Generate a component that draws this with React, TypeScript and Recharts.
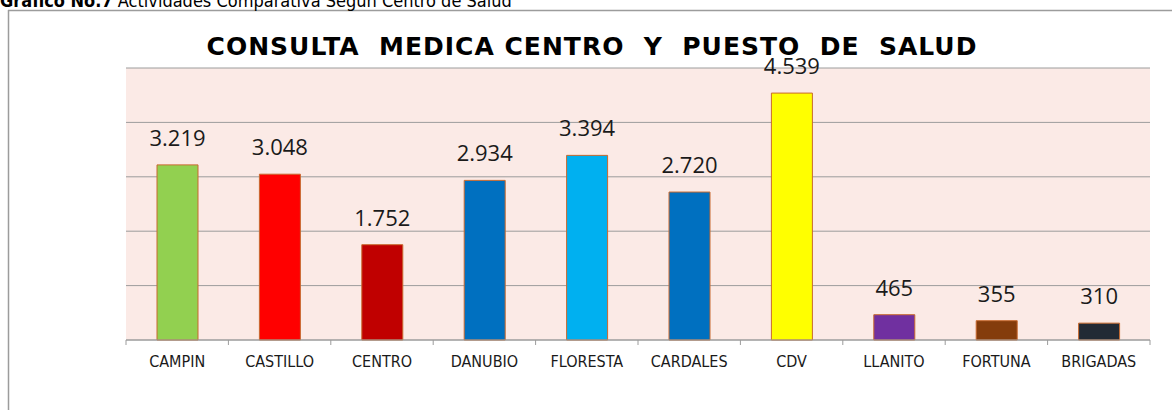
import { BarChart, Bar, XAxis, YAxis, CartesianGrid, Cell, LabelList } from "recharts";

const centros = ["CAMPIN", "CASTILLO", "CENTRO", "DANUBIO", "FLORESTA", "CARDALES", "CDV", "LLANITO", "FORTUNA", "BRIGADAS"];
const consultas = [3219, 3048, 1752, 2934, 3394, 2720, 4539, 465, 355, 310];
const colores = ["#92D050", "#FF0000", "#C00000", "#0070C0", "#00B0F0", "#0070C0", "#FFFF00", "#7030A0", "#843C0C", "#222A35"];
const yTicks = [0, 1000, 2000, 3000, 4000, 5000];

const data = centros.map((centro, i) => ({ centro, consultas: consultas[i] }));

const GRID = "#9C9C9C";

const fmt = (v: number) =>
  v >= 1000 ? `${Math.floor(v / 1000)}.${String(v % 1000).padStart(3, "0")}` : String(v);

function CategoryTick(props: any) {
  const { x, y, payload, index, visibleTicksCount, width } = props;
  const half = payload.offset ?? width / visibleTicksCount / 2;
  return (
    <g>
      <line x1={x - half} x2={x - half} y1={y} y2={y + 5} stroke={GRID} />
      {index === visibleTicksCount - 1 && (
        <line x1={x + half} x2={x + half} y1={y} y2={y + 5} stroke={GRID} />
      )}
      <text
        x={x}
        y={y + 27}
        textAnchor="middle"
        fill="#1a1a1a"
        fontSize={16}
        fontFamily="'DejaVu Sans Condensed', 'DejaVu Sans', sans-serif"
      >
        {payload.value}
      </text>
    </g>
  );
}

export default function App() {
  return (
    <div style={{ position: "absolute", left: 0, top: 0, width: 1172, height: 410, overflow: "hidden", background: "#fff" }}>
      <BarChart width={1172} height={410} data={data} margin={{ top: 68, right: 22, left: 126, bottom: 40 }}>
        <CartesianGrid vertical={false} stroke={GRID} fill="#FBEAE6" fillOpacity={1} />
        <XAxis
          dataKey="centro"
          height={30}
          axisLine={{ stroke: GRID }}
          tickLine={false}
          tickSize={0}
          tickMargin={0}
          interval={0}
          tick={<CategoryTick />}
        />
        <YAxis hide domain={[0, 5000]} ticks={yTicks} />
        <Bar dataKey="consultas" barSize={41} stroke="#C8692E" strokeWidth={1} isAnimationActive={false}>
          {data.map((d, i) => (
            <Cell key={d.centro} fill={colores[i]} />
          ))}
          <LabelList
            dataKey="consultas"
            position="top"
            offset={19}
            formatter={(v: any) => fmt(Number(v))}
            fill="#1a1a1a"
            fontSize={22}
            fontFamily="'Open Sans', sans-serif"
          />
        </Bar>
      </BarChart>
      <svg width={1172} height={410} style={{ position: "absolute", left: 0, top: 0, pointerEvents: "none" }}>
        <line x1={8.5} x2={8.5} y1={10} y2={410} stroke={GRID} strokeWidth={1.5} />
        <line x1={8} x2={1172} y1={10.5} y2={10.5} stroke={GRID} strokeWidth={1.5} />
        <text x={0} y={7} fontSize={18} fill="#000" fontFamily="'DejaVu Sans Condensed', 'DejaVu Sans', sans-serif">
          <tspan fontWeight="bold">Gráfico No.7</tspan> Actividades Comparativa Según Centro de Salud
        </text>
        <text
          x={592}
          y={55}
          textAnchor="middle"
          fontSize={25}
          fontWeight="bold"
          letterSpacing={1}
          fill="#000"
          style={{ whiteSpace: "pre" }}
          fontFamily="'DejaVu Sans', sans-serif"
        >
          {"CONSULTA  MEDICA CENTRO  Y  PUESTO  DE  SALUD"}
        </text>
      </svg>
    </div>
  );
}
